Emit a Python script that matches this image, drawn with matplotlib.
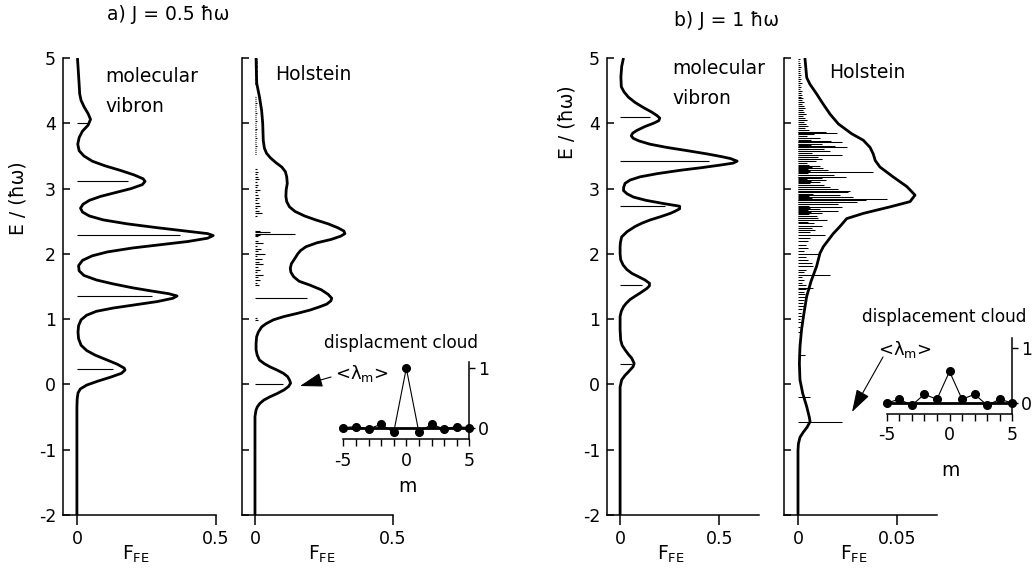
import matplotlib
matplotlib.use("Agg")
import matplotlib.pyplot as plt
from matplotlib.patches import FancyArrowPatch
from matplotlib.ticker import FixedLocator

plt.rcParams["font.family"] = ["DejaVu Sans"]
plt.rcParams["axes.unicode_minus"] = False
plt.rcParams["mathtext.default"] = "regular"

W, H = 1032, 574

# ---------------- a) J = 0.5 : molecular vibron ----------------
vib_a_E = [5.00, 4.80, 4.60, 4.45, 4.35, 4.25, 4.15, 4.06, 3.97, 3.88, 3.78, 3.68,
           3.58, 3.50, 3.42, 3.35, 3.28, 3.21, 3.15, 3.11, 3.06, 3.00, 2.94, 2.88,
           2.82, 2.76, 2.70, 2.64, 2.58, 2.52, 2.46, 2.40, 2.35, 2.31, 2.28, 2.24,
           2.19, 2.14, 2.09, 2.03, 1.97, 1.90, 1.82, 1.74, 1.67, 1.60, 1.54, 1.48,
           1.43, 1.39, 1.355, 1.32, 1.27, 1.22, 1.17, 1.12, 1.06, 0.99, 0.90, 0.80,
           0.70, 0.60, 0.52, 0.45, 0.38, 0.31, 0.25, 0.22, 0.17, 0.11, 0.05, -0.01,
           -0.07, -0.13, -0.22, -0.35, -2.00]
vib_a_F = [0.002, 0.005, 0.008, 0.010, 0.015, 0.026, 0.040, 0.049, 0.040, 0.020, 0.008, 0.003,
           0.008, 0.025, 0.055, 0.100, 0.155, 0.205, 0.238, 0.245, 0.235, 0.195, 0.140, 0.085,
           0.045, 0.022, 0.013, 0.020, 0.045, 0.095, 0.180, 0.290, 0.390, 0.470, 0.490, 0.470,
           0.400, 0.300, 0.200, 0.110, 0.055, 0.020, 0.006, 0.008, 0.025, 0.070, 0.130, 0.200,
           0.270, 0.330, 0.360, 0.345, 0.290, 0.210, 0.130, 0.070, 0.035, 0.015, 0.006, 0.004,
           0.006, 0.015, 0.035, 0.065, 0.105, 0.145, 0.170, 0.173, 0.160, 0.120, 0.075, 0.035,
           0.012, 0.004, 0.001, 0.000, 0.000]
vib_a_stick_E = [0.23, 1.355, 2.29, 3.11, 4.01]
vib_a_stick_F = [0.13, 0.27, 0.37, 0.184, 0.04]

# ---------------- a) J = 0.5 : Holstein ----------------
hol_a_E = [5.00, 4.80, 4.61, 4.41, 4.20, 4.00, 3.74, 3.62, 3.54, 3.47, 3.40, 3.33,
           3.26, 3.18, 3.08, 2.98, 2.88, 2.80, 2.72, 2.65, 2.58, 2.52, 2.46, 2.40,
           2.35, 2.31, 2.27, 2.22, 2.17, 2.11, 2.05, 2.00, 1.92, 1.85, 1.78, 1.72,
           1.65, 1.58, 1.52, 1.45, 1.38, 1.32, 1.28, 1.23, 1.19, 1.14, 1.09, 1.04,
           0.99, 0.93, 0.88, 0.80, 0.73, 0.63, 0.53, 0.45, 0.375, 0.32, 0.27, 0.22,
           0.17, 0.12, 0.07, 0.02, -0.03, -0.085, -0.14, -0.19, -0.24, -0.29, -0.34,
           -0.39, -0.49, -2.00]
hol_a_F = [0.004, 0.005, 0.0064, 0.016, 0.024, 0.028, 0.030, 0.034, 0.042, 0.056, 0.075, 0.097,
           0.110, 0.115, 0.117, 0.113, 0.112, 0.115, 0.125, 0.145, 0.180, 0.220, 0.265, 0.300,
           0.322, 0.326, 0.310, 0.275, 0.225, 0.185, 0.165, 0.155, 0.143, 0.132, 0.128, 0.130,
           0.140, 0.160, 0.200, 0.240, 0.265, 0.278, 0.275, 0.260, 0.235, 0.200, 0.155, 0.105,
           0.067, 0.040, 0.024, 0.012, 0.006, 0.004, 0.004, 0.008, 0.016, 0.033, 0.054, 0.080,
           0.103, 0.118, 0.125, 0.129, 0.122, 0.105, 0.080, 0.054, 0.032, 0.018, 0.009,
           0.004, 0.000, 0.000]
hol_a_sticks = [
    (4.98, 0.008), (4.96, 0.009), (4.94, 0.007), (4.92, 0.008), (4.90, 0.009),
    (4.88, 0.008), (4.86, 0.007), (4.84, 0.009), (4.82, 0.008), (4.80, 0.008),
    (4.78, 0.009), (4.76, 0.007), (4.74, 0.008), (4.72, 0.009), (4.70, 0.008),
    (4.68, 0.007), (4.66, 0.008), (4.64, 0.009), (4.62, 0.007), (4.60, 0.006),
    (4.40, 0.005), (4.37, 0.004), (4.34, 0.005), (4.31, 0.006), (4.28, 0.004),
    (4.25, 0.005), (4.22, 0.005), (4.19, 0.004), (4.16, 0.006), (4.13, 0.005),
    (4.10, 0.004), (4.07, 0.005), (4.04, 0.006), (4.01, 0.005), (3.98, 0.004),
    (3.95, 0.005), (3.92, 0.006), (3.89, 0.004), (3.86, 0.005), (3.83, 0.005),
    (3.80, 0.004), (3.77, 0.006), (3.74, 0.005), (3.71, 0.004), (3.68, 0.005),
    (3.65, 0.006), (3.62, 0.005), (3.59, 0.004), (3.56, 0.005), (3.53, 0.004),
    (3.30, 0.008), (3.26, 0.012), (3.22, 0.006), (3.18, 0.010), (3.14, 0.015),
    (3.10, 0.007), (3.06, 0.012), (3.02, 0.009), (2.98, 0.018), (2.94, 0.008),
    (2.90, 0.011), (2.86, 0.016), (2.82, 0.007), (2.78, 0.013), (2.74, 0.020),
    (2.70, 0.009), (2.66, 0.014), (2.62, 0.024), (2.58, 0.006),
    (2.35, 0.020), (2.33, 0.055), (2.31, 0.145), (2.29, 0.020), (2.27, 0.012),
    (2.20, 0.010), (2.16, 0.030), (2.12, 0.008), (2.08, 0.022), (2.04, 0.012),
    (2.00, 0.035), (1.96, 0.009), (1.92, 0.025), (1.88, 0.015), (1.84, 0.030),
    (1.80, 0.010), (1.76, 0.020), (1.72, 0.008), (1.68, 0.028), (1.64, 0.012),
    (1.60, 0.018), (1.56, 0.006), (1.52, 0.015),
    (1.33, 0.190), (1.01, 0.006), (0.98, 0.010), (0.00, 0.103),
]

# ---------------- b) J = 1 : molecular vibron ----------------
vib_b_E = [5.00, 4.87, 4.71, 4.56, 4.48, 4.40, 4.32, 4.24, 4.17, 4.12, 4.08, 4.04,
           4.00, 3.95, 3.89, 3.85, 3.81, 3.77, 3.73, 3.68, 3.63, 3.58, 3.53, 3.49,
           3.46, 3.42, 3.39, 3.36, 3.32, 3.28, 3.23, 3.18, 3.13, 3.08, 3.02, 2.97,
           2.92, 2.87, 2.82, 2.77, 2.73, 2.69, 2.65, 2.62, 2.57, 2.52, 2.47, 2.42,
           2.34, 2.26, 2.18, 2.11, 2.00, 1.91, 1.83, 1.76, 1.70, 1.65, 1.60, 1.55,
           1.51, 1.47, 1.40, 1.35, 1.30, 1.24, 1.19, 1.12, 1.04, 0.84, 0.68, 0.60,
           0.53, 0.46, 0.40, 0.32, 0.27, 0.22, 0.18, 0.14, 0.07, -0.04, -2.00]
vib_b_F = [0.017, 0.008, 0.004, 0.006, 0.020, 0.042, 0.075, 0.118, 0.160, 0.185, 0.200, 0.195,
           0.168, 0.125, 0.084, 0.064, 0.056, 0.066, 0.095, 0.150, 0.236, 0.340, 0.440, 0.510,
           0.556, 0.590, 0.570, 0.505, 0.410, 0.303, 0.190, 0.101, 0.050, 0.025, 0.018, 0.017,
           0.035, 0.067, 0.130, 0.220, 0.300, 0.300, 0.275, 0.253, 0.205, 0.152, 0.110, 0.076,
           0.035, 0.008, 0.002, 0.000, 0.000, 0.003, 0.015, 0.034, 0.060, 0.093, 0.125, 0.148,
           0.148, 0.135, 0.101, 0.075, 0.050, 0.030, 0.017, 0.006, 0.000, 0.000, 0.003, 0.010,
           0.025, 0.042, 0.059, 0.071, 0.065, 0.050, 0.038, 0.025, 0.008, 0.000, 0.000]
vib_b_stick_E = [0.31, 1.53, 2.74, 3.42, 4.09]
vib_b_stick_F = [0.059, 0.109, 0.227, 0.446, 0.152]

# ---------------- b) J = 1 : Holstein ----------------
hol_b_E = [5.00, 4.70, 4.60, 4.45, 4.29, 4.14, 3.99, 3.84, 3.74, 3.63, 3.53, 3.43,
           3.33, 3.18, 3.03, 2.90, 2.80, 2.72, 2.62, 2.54, 2.42, 2.31, 2.11, 2.01,
           1.81, 1.58, 1.35, 1.09, 0.84, 0.58, 0.32, 0.07, -0.14, -0.34, -0.50,
           -0.57, -0.65, -0.73, -0.81, -0.91, -1.01, -2.00]
hol_b_F = [0.0035, 0.0044, 0.0060, 0.0094, 0.0128, 0.0162, 0.0204, 0.0271, 0.0330, 0.0364, 0.0380, 0.0390,
           0.0414, 0.0480, 0.0550, 0.0591, 0.0566, 0.0465, 0.0330, 0.0246, 0.0212, 0.0178, 0.0128, 0.0111,
           0.0094, 0.0066, 0.0044, 0.0030, 0.0018, 0.0010, 0.0007, 0.0010, 0.0024, 0.0044, 0.0057,
           0.0061, 0.0047, 0.0027, 0.0010, 0.0002, 0.0000, 0.0000]
hol_b_sticks = [
    # dense comb of weak states
    (4.98, 0.0010), (4.95, 0.0007), (4.92, 0.0012), (4.89, 0.0008), (4.86, 0.0014),
    (4.83, 0.0008), (4.80, 0.0011), (4.77, 0.0009), (4.74, 0.0016), (4.71, 0.0010),
    (4.68, 0.0013), (4.65, 0.0008), (4.62, 0.0018), (4.59, 0.0011), (4.56, 0.0015),
    (4.53, 0.0010), (4.50, 0.0020), (4.47, 0.0016), (4.44, 0.0022), (4.41, 0.0014),
    (4.38, 0.0026), (4.35, 0.0019), (4.32, 0.0032), (4.29, 0.0021), (4.26, 0.0028),
    (4.23, 0.0036), (4.20, 0.0024), (4.17, 0.0030), (4.14, 0.0040), (4.11, 0.0026),
    (4.08, 0.0034), (4.05, 0.0044), (4.02, 0.0029), (3.99, 0.0038), (3.96, 0.0048),
    (3.93, 0.0036), (3.90, 0.0054), (3.87, 0.0040), (3.84, 0.0060), (3.81, 0.0046),
    (3.78, 0.0051), (3.75, 0.0066), (3.72, 0.0042), (3.69, 0.0056), (3.66, 0.0068),
    (3.63, 0.0048), (3.60, 0.0062), (3.57, 0.0053), (3.54, 0.0072), (3.51, 0.0058),
    (3.48, 0.0045), (3.45, 0.0050), (3.42, 0.0064), (3.39, 0.0043), (3.36, 0.0058),
    (3.33, 0.0070), (3.30, 0.0048), (3.27, 0.0061), (3.24, 0.0052), (3.21, 0.0074),
    (3.18, 0.0056), (3.15, 0.0046), (3.12, 0.0067), (3.09, 0.0059), (3.06, 0.0076),
    (3.03, 0.0054), (3.00, 0.0064), (2.97, 0.0069), (2.94, 0.0062), (2.91, 0.0076),
    (2.88, 0.0056), (2.85, 0.0070), (2.82, 0.0051), (2.79, 0.0066), (2.76, 0.0074),
    (2.73, 0.0054), (2.70, 0.0060), (2.67, 0.0048), (2.64, 0.0068), (2.61, 0.0058),
    (2.58, 0.0046), (2.55, 0.0053), (2.52, 0.0040), (2.49, 0.0050),
    # stronger states
    (3.87, 0.0140), (3.85, 0.0197), (3.83, 0.0080), (3.78, 0.0110), (3.73, 0.0165),
    (3.71, 0.0222), (3.68, 0.0120), (3.65, 0.0187), (3.63, 0.0247), (3.60, 0.0130),
    (3.57, 0.0162), (3.52, 0.0222), (3.49, 0.0100), (3.45, 0.0120), (3.42, 0.0090),
    (3.35, 0.0110), (3.32, 0.0128), (3.28, 0.0150), (3.25, 0.0380), (3.21, 0.0180),
    (3.18, 0.0240), (3.16, 0.0120), (3.13, 0.0140), (3.10, 0.0110), (3.06, 0.0130),
    (3.03, 0.0160), (2.99, 0.0200), (2.97, 0.0263), (2.94, 0.0250), (2.90, 0.0210),
    (2.87, 0.0280), (2.84, 0.0448), (2.82, 0.0343), (2.79, 0.0296), (2.76, 0.0200),
    (2.72, 0.0222), (2.69, 0.0110), (2.66, 0.0204), (2.62, 0.0120), (2.58, 0.0094),
    (2.55, 0.0100), (2.52, 0.0145), (2.47, 0.0080), (2.43, 0.0120), (2.40, 0.0070),
    (2.37, 0.0086), (2.33, 0.0060), (2.29, 0.0137), (2.24, 0.0060), (2.19, 0.0050),
    (2.14, 0.0040), (2.09, 0.0052), (2.05, 0.0030), (2.00, 0.0111), (1.95, 0.0040),
    (1.91, 0.0050), (1.86, 0.0070), (1.81, 0.0078), (1.76, 0.0040), (1.72, 0.0030),
    (1.68, 0.0162), (1.64, 0.0020), (1.60, 0.0030), (1.56, 0.0020), (1.52, 0.0040),
    (1.48, 0.0078), (1.46, 0.0040), (1.42, 0.0030), (1.38, 0.0035), (1.34, 0.0040),
    (1.30, 0.0030), (1.25, 0.0025), (1.20, 0.0030), (1.15, 0.0020), (1.10, 0.0015),
    (1.05, 0.0022), (1.00, 0.0012), (0.95, 0.0018), (0.88, 0.0010), (0.80, 0.0012),
    (0.45, 0.0035), (-0.19, 0.0061), (-0.57, 0.0220),
]

# ---------------- displacement cloud insets ----------------
m_sites = [-5, -4, -3, -2, -1, 0, 1, 2, 3, 4, 5]
cloud_a = [0.0, 0.017, -0.022, 0.056, -0.079, 1.0, -0.079, 0.056, -0.022, 0.017, 0.0]
cloud_b = [0.0, 0.066, -0.042, 0.157, 0.066, 0.57, 0.066, 0.157, -0.042, 0.066, 0.0]

E_ticks = [-2, -1, 0, 1, 2, 3, 4, 5]

fig = plt.figure(figsize=(W / 100, H / 100), dpi=100)


def px_axes(left, right, top, bottom):
    return fig.add_axes([left / W, 1 - bottom / H, (right - left) / W, (bottom - top) / H])


def ftext(x, y, s, **kw):
    return fig.text(x / W, 1 - y / H, s, **kw)


def style_main(ax, xlim, xticks, xlabels, show_ylabels):
    ax.set_xlim(*xlim)
    ax.set_ylim(-2, 5)
    for side in ("top", "right"):
        ax.spines[side].set_visible(False)
    for side in ("left", "bottom"):
        ax.spines[side].set_linewidth(1.1)
    ax.yaxis.set_major_locator(FixedLocator(E_ticks))
    ax.set_yticklabels([str(t) for t in E_ticks] if show_ylabels else [])
    ax.set_xticks(xticks)
    ax.set_xticklabels(xlabels)
    ax.tick_params(axis="y", direction="in", length=5, width=1.1, pad=5, labelsize=12.5)
    ax.tick_params(axis="x", direction="out", length=7, width=1.1, pad=4, labelsize=12.5)


def draw_curve(ax, E, F):
    ax.plot(F, E, color="black", lw=2.0, solid_joinstyle="round", solid_capstyle="butt", zorder=3)


def draw_sticks(ax, E, F, lw=0.8):
    ax.hlines(E, 0, F, color="black", lw=lw, zorder=2)


def make_inset(left, right, top, bottom, ylim, vals):
    ax = px_axes(left, right, top, bottom)
    ax.set_facecolor("none")
    ax.set_xlim(-5, 5)
    ax.set_ylim(*ylim)
    for side in ("top", "left"):
        ax.spines[side].set_visible(False)
    for side in ("right", "bottom"):
        ax.spines[side].set_linewidth(1.1)
    ax.axhline(0, color="black", lw=2.0, zorder=2)
    ax.plot(m_sites, vals, color="black", lw=0.8, marker="o", ms=5.5, clip_on=False, zorder=3)
    ax.set_xticks(m_sites)
    ax.set_xticklabels(["-5" if t == -5 else "0" if t == 0 else "5" if t == 5 else "" for t in m_sites])
    ax.yaxis.tick_right()
    ax.set_yticks([0, 1])
    ax.set_yticklabels(["0", "1"])
    ax.tick_params(axis="x", direction="out", length=5, width=1.0, pad=4, labelsize=12.5)
    ax.tick_params(axis="y", direction="out", length=4, width=1.0, pad=2, labelsize=12.5)
    return ax


# panel a, molecular vibron
ax1 = px_axes(63, 216, 58, 515)
style_main(ax1, (-0.05, 0.5), [0, 0.5], ["0", "0.5"], True)
draw_sticks(ax1, vib_a_stick_E, vib_a_stick_F)
draw_curve(ax1, vib_a_E, vib_a_F)

# panel a, Holstein
ax2 = px_axes(242, 393, 58, 515)
style_main(ax2, (-0.047, 0.5), [0, 0.5], ["0", "0.5"], False)
draw_sticks(ax2, [s[0] for s in hol_a_sticks], [s[1] for s in hol_a_sticks])
draw_curve(ax2, hol_a_E, hol_a_F)

# panel b, molecular vibron
ax3 = px_axes(607, 759, 58, 515)
style_main(ax3, (-0.066, 0.70), [0, 0.5], ["0", "0.5"], True)
draw_sticks(ax3, vib_b_stick_E, vib_b_stick_F)
draw_curve(ax3, vib_b_E, vib_b_F)

# panel b, Holstein
ax4 = px_axes(784, 937, 58, 515)
style_main(ax4, (-0.00707, 0.0702), [0, 0.05], ["0", "0.05"], False)
draw_sticks(ax4, [s[0] for s in hol_b_sticks], [s[1] for s in hol_b_sticks], lw=0.75)
draw_curve(ax4, hol_b_E, hol_b_F)

# insets
make_inset(343.3, 469.3, 361.7, 439.3, (-0.196, 1.11), cloud_a)
make_inset(886.7, 1012.3, 338.3, 414.0, (-0.2, 1.17), cloud_b)

# titles
ftext(168, 14, "a) J = 0.5 ħω", ha="center", va="center", fontsize=13.5)
ftext(727, 20, "b) J = 1 ħω", ha="center", va="center", fontsize=13.5)

# y labels
ftext(18, 198, "E / (ħω)", ha="center", va="center", rotation=90, fontsize=13.5)
ftext(567, 122, "E / (ħω)", ha="center", va="center", rotation=90, fontsize=13.5)

# x labels
for x0 in (122, 308, 657, 840):
    ftext(x0, 560, r"F$_{\mathrm{FE}}$", ha="left", va="baseline", fontsize=13.5)

# panel captions
ftext(105, 77, "molecular", ha="left", va="center", fontsize=13.5)
ftext(105, 107, "vibron", ha="left", va="center", fontsize=13.5)
ftext(672, 68, "molecular", ha="left", va="center", fontsize=13.5)
ftext(672, 98, "vibron", ha="left", va="center", fontsize=13.5)
ftext(275, 74, "Holstein", ha="left", va="center", fontsize=13.5)
ftext(829, 72, "Holstein", ha="left", va="center", fontsize=13.5)

# inset captions
ftext(401, 343, "displacment cloud", ha="center", va="center", fontsize=12.2)
ftext(944, 317, "displacement cloud", ha="center", va="center", fontsize=12.2)
ftext(407, 486, "m", ha="center", va="center", fontsize=13.5)
ftext(950, 470, "m", ha="center", va="center", fontsize=13.5)

# <lambda_m> labels with arrows
arrow_kw = dict(arrowstyle="-|>,head_length=0.7,head_width=0.22", color="black",
                lw=0.8, shrinkA=0, shrinkB=0, mutation_scale=20)
ftext(362, 373, "<λ$_\\mathrm{m}$>", ha="center", va="center", fontsize=13)
fig.add_artist(FancyArrowPatch((331 / W, 1 - 377 / H), (300 / W, 1 - 386 / H),
                               transform=fig.transFigure, **arrow_kw))
ftext(905, 350, "<λ$_\\mathrm{m}$>", ha="center", va="center", fontsize=13)
fig.add_artist(FancyArrowPatch((883 / W, 1 - 357 / H), (852 / W, 1 - 412 / H),
                               transform=fig.transFigure, **arrow_kw))

fig.savefig("out.png", dpi=100)
